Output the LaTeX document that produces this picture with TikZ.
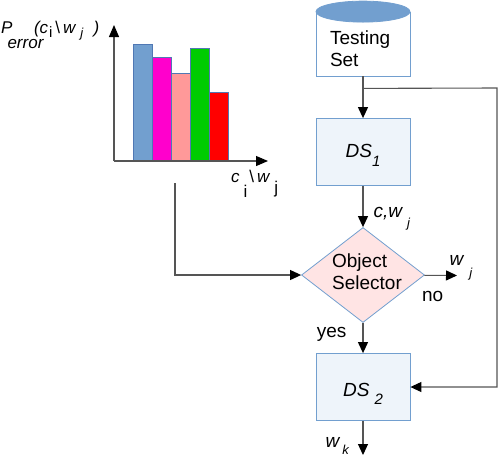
\documentclass[tikz,border=0pt]{standalone}
\usepackage{fontspec}
\setmainfont{Liberation Sans}
\usepackage{tikz}
\usetikzlibrary{calc}
\usetikzlibrary{shapes.geometric, arrows.meta}
\definecolor{edgeblue}{RGB}{114,159,207}
\definecolor{dbtop}{RGB}{114,159,207}
\definecolor{boxblue}{RGB}{238,244,250}
\definecolor{selpink}{RGB}{255,228,228}
\definecolor{linegrey}{RGB}{85,85,85}
\definecolor{barline}{RGB}{80,120,180}
\definecolor{barblue}{RGB}{114,159,207}
\definecolor{barmag}{RGB}{255,0,204}
\definecolor{barpink}{RGB}{255,153,153}
\definecolor{bargreen}{RGB}{0,204,0}
\definecolor{barred}{RGB}{255,0,0}
\newcommand{\subsz}{\fontsize{13}{13}\selectfont}
\tikzstyle{dbase} = [rectangle, minimum width=94pt, minimum height=64pt, text width=66pt, inner xsep=14pt, align=left, draw=edgeblue, line width=0.8pt, fill=white]
\tikzstyle{process} = [rectangle, minimum width=94pt, minimum height=67pt, draw=edgeblue, line width=0.8pt, fill=boxblue]
\tikzstyle{decision} = [diamond, minimum width=123pt, minimum height=95pt, inner sep=-3pt, aspect=1.3, align=left, draw=edgeblue, line width=0.8pt, fill=selpink]
\tikzstyle{arrow} = [line width=1.1pt, draw=linegrey, -{Triangle[length=11pt,width=10pt,color=black]}]
\tikzstyle{chartaxis} = [line width=1.1pt, draw=linegrey, -{Triangle[length=12pt,width=10pt,color=black]}]
\tikzstyle{bar} = [draw=barline, line width=0.8pt]
\tikzstyle{lbl} = [inner sep=1pt]

\begin{document}
\begin{tikzpicture}[x=1pt, y=1pt, node distance=112pt, font=\fontsize{19}{22}\selectfont]
\useasboundingbox (0,0) rectangle (498,-456);

% error histogram
\foreach \i/\h/\c in {0/44/barblue, 1/57/barmag, 2/73/barpink, 3/48/bargreen, 4/92/barred}
  \filldraw [bar, fill=\c] ({133+19*\i},-161) rectangle ({152+19*\i},-\h);
\coordinate (origin) at (114,-161);
\draw [chartaxis] (origin) -- (114,-25);
\draw [chartaxis] (origin) -- (268,-161);
\node (perr) [lbl, anchor=base west, font=\fontsize{17}{20}\selectfont] at (0,-33) {\textit{P}\kern-5pt\raisebox{-15pt}{\textit{error}}\kern-10pt\raisebox{0pt}{\textit{(c}\kern1pt\raisebox{-4pt}{\fontsize{15}{15}\selectfont i}\kern3pt\textbackslash\kern3pt\textit{w}\kern4pt\raisebox{-4pt}{\subsz\textit{j}}\kern10pt\textit{)}}};
\node (cwlab) [lbl, anchor=base west, font=\fontsize{17}{20}\selectfont] at (230,-182) {\textit{c}\kern4pt\raisebox{-15pt}{i}\kern2pt\textbackslash\kern3pt\textit{w}\kern4pt\raisebox{-11pt}{j}};

% flow chart
\node (tset) [dbase] at (363,-44) {\rule{0pt}{23pt}Testing\\Set};
\draw [draw=edgeblue, line width=0.8pt, fill=dbtop] (tset.north) ellipse (47 and 10.5);
\node (ds1) [process, below of=tset, yshift=4pt, text height=20pt, text depth=9pt] {\textit{DS}\raisebox{-9pt}{\fontsize{15}{15}\selectfont\textit{1}}};
\node (sel) [decision, below of=ds1, yshift=-11pt] {\kern8pt Object\\\kern8pt Selector\rule[-7pt]{0pt}{0pt}};
\node (ds2) [process, below of=sel, text height=26pt, text depth=8pt] {\textit{DS}\kern5pt\raisebox{-8pt}{\fontsize{15}{15}\selectfont\textit{2}}};
\coordinate (split) at ($(tset.south)+(0,-12)$);
\coordinate (fbtop) at (497,-88);
\coordinate (wjout) at (457,-275.5);
\coordinate (wkout) at (363,-455);
\coordinate (chart) at (175,-183);

\draw [arrow] (tset) -- (ds1);
\draw [arrow] (split) -- (fbtop) |- (ds2);
\draw [arrow] (ds1) -- node[lbl, anchor=base west, pos=0.76, xshift=9pt] {\textit{c,w}\kern4pt\raisebox{-10pt}{\subsz\textit{j}}} (sel);
\draw [arrow] (chart) |- (sel);
\draw [arrow] (sel) -- node[lbl, anchor=base east, pos=0.48, xshift=-15pt] {yes} (ds2);
\draw [arrow] (sel) -- node[lbl, anchor=base west, pos=0, xshift=-4pt, yshift=-26.5pt] {no} node[lbl, anchor=base west, pos=1, xshift=-9pt, yshift=10.5pt] {\textit{w}\kern5pt\raisebox{-12pt}{\subsz\textit{j}}} (wjout);
\draw [arrow] (ds2) -- node[lbl, anchor=base east, pos=0.79, xshift=-12pt] {\textit{w}\kern2pt\raisebox{-7pt}{\subsz\textit{k}}} (wkout);
\end{tikzpicture}
\end{document}
